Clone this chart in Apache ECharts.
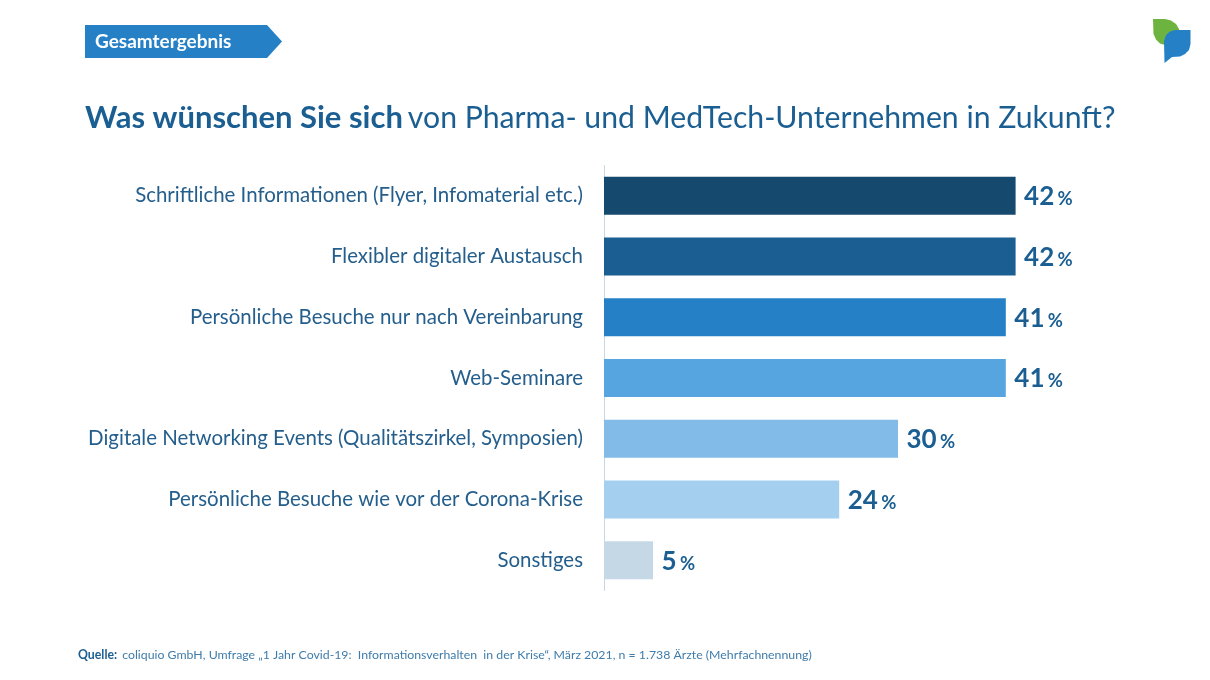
<!DOCTYPE html>
<html><head><meta charset="utf-8">
<style>html,body{margin:0;padding:0;background:#fff}#c{width:1210px;height:680px}</style>
<script src="https://cdn.jsdelivr.net/npm/echarts@6/dist/echarts.min.js"></script>
</head><body><div id="c"></div>
<script>
const categories = ["Schriftliche Informationen (Flyer, Infomaterial etc.)","Flexibler digitaler Austausch","Persönliche Besuche nur nach Vereinbarung","Web-Seminare","Digitale Networking Events (Qualitätszirkel, Symposien)","Persönliche Besuche wie vor der Corona-Krise","Sonstiges"];
const values = [42,42,41,41,30,24,5];
const barColors = ["#154A6E","#1B5F92","#2580C6","#57A5E0","#82BBE8","#A5CFEF","#C5D8E6"];
const FONT = "Lato";
const TEXT = "#245E8C";
const chart = echarts.init(document.getElementById('c'), null, {renderer:'canvas'});
chart.setOption({
  animation:false,
  backgroundColor:'#fff',
  grid:{left:604,top:165.5,width:490,height:425,containLabel:false},
  xAxis:{type:'value',min:0,max:50,show:false},
  yAxis:{type:'category',inverse:true,data:categories,
    axisLine:{show:true,lineStyle:{color:'#C5D8E6',width:1}},
    axisTick:{show:false},
    axisLabel:{color:TEXT,fontFamily:FONT,fontSize:20.45,margin:21,align:'right',padding:[0,0,2,0]}},
  series:[{type:'bar',barWidth:38,
    data:values.map((v,i)=>({value:v,itemStyle:{color:barColors[i]}})),
    label:{show:true,position:'right',distance:8.5,offset:[0,1],
      formatter:p=>`{n|${p.value}} {u|%}`,
      rich:{n:{fontFamily:FONT,fontWeight:'bold',fontSize:26,color:'#1B5F92'},
            u:{fontFamily:FONT,fontWeight:'bold',fontSize:18.5,color:'#1B5F92',padding:[5,0,0,0]}}}}],
  title:[
    {text:'{b|Was wünschen Sie sich} {r|von Pharma- und MedTech-Unternehmen in Zukunft?}',left:80,top:97.5,
     textStyle:{rich:{b:{fontFamily:FONT,fontWeight:'bold',fontSize:31,color:'#1B5F92'},
                      r:{fontFamily:FONT,fontWeight:'normal',fontSize:30.2,color:'#1B5F92'}}}},
    {text:'{b|Quelle:} {r|coliquio GmbH, Umfrage „1 Jahr Covid-19:  Informationsverhalten  in der Krise“, März 2021, n = 1.738 Ärzte (Mehrfachnennung)}',left:73,top:641,
     textStyle:{rich:{b:{fontFamily:FONT,fontWeight:'bold',fontSize:12.3,color:'#1B5F92'},
                      r:{fontFamily:FONT,fontWeight:'normal',fontSize:12.3,color:'#3F7CAB'}}}}
  ],
  graphic:[
    {type:'polygon',shape:{points:[[85,25],[267,25],[282,41.5],[267,58],[85,58]]},style:{fill:'#2580C6'}},
    {type:'text',x:95,y:32,style:{text:'Gesamtergebnis',fill:'#fff',font:'bold 19px '+FONT}},
    {type:'polygon',shape:{points:[[1153,19],[1165,19],[1171,20.5],[1176,24],[1179,29],[1179,36],[1176,41],[1171,44],[1165,45],[1160,43.5],[1156,39.5],[1153.5,34]]},style:{fill:'#6CB33F'}},
    {type:'polygon',shape:{points:[[1175,30],[1190.5,30],[1190.5,44],[1189,50],[1185,54],[1180,56.5],[1172,57],[1164.5,63],[1164,41],[1166,35],[1170,31.5]]},style:{fill:'#2580C6'}}
  ]
});
</script></body></html>
